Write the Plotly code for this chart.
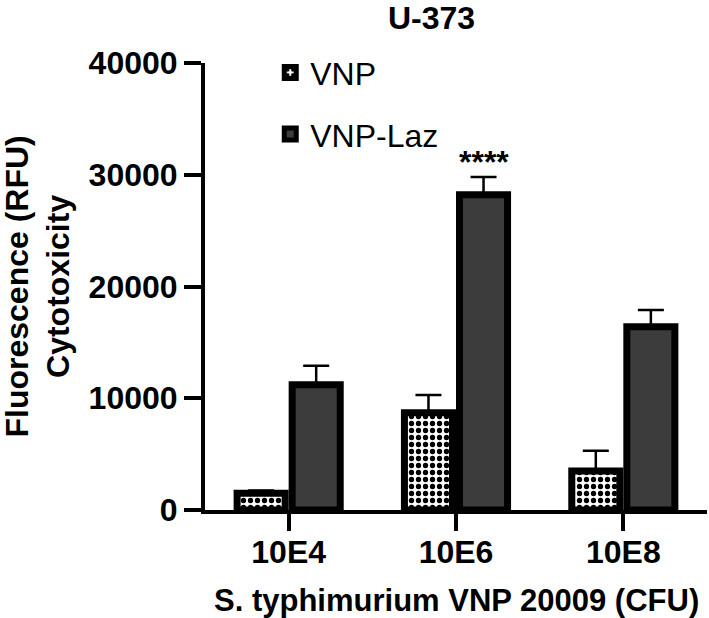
import plotly.graph_objects as go

# ---- data ----
categories = ["10E4", "10E6", "10E8"]
vnp = [1500, 8700, 3500]
vnp_err = [250, 1600, 1800]
vnp_laz = [11200, 28200, 16400]
vnp_laz_err = [1700, 1600, 1500]
sig_labels = ["", "****", ""]
y_ticks = [0, 10000, 20000, 30000, 40000]

FONT = "Liberation Sans, Arial, Helvetica, sans-serif"
BARGAP = 0.342
GROUPGAP = 0.127

fig = go.Figure()
fig.add_trace(go.Bar(
    name="VNP", x=categories, y=vnp, legendgroup="a",
    marker=dict(color="white", line=dict(color="black", width=7),
                pattern=dict(shape=".", fgcolor="black", bgcolor="white",
                             size=7, solidity=0.45, fillmode="replace")),
    error_y=dict(type="data", array=vnp_err, arrayminus=[0] * len(vnp),
                 symmetric=False, color="black", thickness=2.5, width=13),
))
fig.add_trace(go.Bar(
    name="VNP-Laz", x=categories, y=vnp_laz, legendgroup="b",
    marker=dict(color="#3c3c3c", line=dict(color="black", width=7)),
    error_y=dict(type="data", array=vnp_laz_err, arrayminus=[0] * len(vnp_laz),
                 symmetric=False, color="black", thickness=2.5, width=13),
))

annotations = []
slot = (1 - BARGAP) / 2
for i, lab in enumerate(sig_labels):
    if lab:
        annotations.append(dict(
            x=i + slot / 2, y=vnp_laz[i] + vnp_laz_err[i], xref="x", yref="y",
            text=lab, showarrow=False, yanchor="bottom", yshift=-5,
            font=dict(family=FONT, size=32, color="black", weight="bold")))

annotations.append(dict(
    x=(37 - 205) / 502, y=0.5, xref="paper", yref="paper", textangle=-90,
    text="Fluorescence (RFU)<br>Cytotoxicity", showarrow=False,
    xanchor="center", yanchor="middle",
    font=dict(family=FONT, size=32, color="black", weight="bold")))
annotations.append(dict(
    x=0.5, y=(510 - 600) / 447, xref="paper", yref="paper",
    text="S. typhimurium VNP 20009 (CFU)", showarrow=False,
    xanchor="center", yanchor="middle",
    font=dict(family=FONT, size=31, color="black", weight="bold")))

fig.update_layout(
    width=709, height=618,
    margin=dict(l=205, r=2, t=63, b=108),
    paper_bgcolor="white", plot_bgcolor="white",
    barmode="group", bargap=BARGAP, bargroupgap=GROUPGAP,
    title=dict(text="U-373", x=431.5 / 709, xref="container", xanchor="center",
               y=1 - 18 / 618, yref="container", yanchor="middle",
               font=dict(family=FONT, size=32, color="black", weight="bold")),
    showlegend=True,
    legend=dict(x=0.13, y=1.04, xanchor="left", yanchor="top",
                traceorder="grouped", tracegroupgap=17,
                bgcolor="rgba(0,0,0,0)",
                font=dict(family=FONT, size=32, color="black")),
    annotations=annotations,
    xaxis=dict(type="category", range=[-0.5, 2.5],
               showline=True, linecolor="black", linewidth=4,
               ticks="outside", ticklen=17, tickwidth=4, tickcolor="black",
               ticklabelstandoff=-6,
               tickfont=dict(family=FONT, size=32, color="black", weight="bold"),
               showgrid=False, zeroline=False),
    yaxis=dict(range=[0, 40000], tickvals=y_ticks, ticktext=[str(v) for v in y_ticks],
               showline=True, linecolor="black", linewidth=4,
               ticks="outside", ticklen=17, tickwidth=4, tickcolor="black",
               tickfont=dict(family=FONT, size=32, color="black", weight="bold"),
               showgrid=False, zeroline=False),
)

fig.write_html("out.html", config={"displayModeBar": False},
               post_script="document.body.style.margin='0px';document.body.style.padding='0px';")
